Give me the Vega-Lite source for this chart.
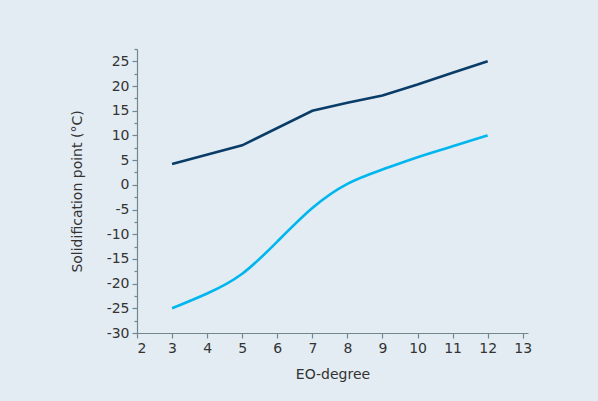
{
  "$schema": "https://vega.github.io/schema/vega-lite/v6.json",
  "autosize": {"type": "none"},
  "width": 391,
  "height": 284,
  "padding": {"left": 137, "top": 49, "right": 70, "bottom": 68},
  "background": "#e3ecf2",
  "config": {
    "view": {"stroke": null},
    "font": "DejaVu Sans",
    "axis": {
      "grid": false,
      "domainColor": "#72878f",
      "tickColor": "#72878f",
      "labelColor": "#333333",
      "titleColor": "#333333",
      "labelFont": "DejaVu Sans",
      "titleFont": "DejaVu Sans",
      "labelFontSize": 14,
      "titleFontSize": 14,
      "titleFontWeight": "normal",
      "domainWidth": 1.2,
      "tickWidth": 1.2
    }
  },
  "datasets": {
    "eo": [
      {"eo": 3, "value": 4.2, "series": "A"},
      {"eo": 5, "value": 8.0, "series": "A"},
      {"eo": 7, "value": 15.0, "series": "A"},
      {"eo": 8, "value": 16.6, "series": "A"},
      {"eo": 9, "value": 18.1, "series": "A"},
      {"eo": 10, "value": 20.3, "series": "A"},
      {"eo": 11, "value": 22.7, "series": "A"},
      {"eo": 12, "value": 25.0, "series": "A"},
      {"eo": 3, "value": -25.0, "series": "B"},
      {"eo": 4, "value": -22.0, "series": "B"},
      {"eo": 5, "value": -18.0, "series": "B"},
      {"eo": 6, "value": -11.5, "series": "B"},
      {"eo": 7, "value": -4.7, "series": "B"},
      {"eo": 8, "value": 0.2, "series": "B"},
      {"eo": 9, "value": 3.1, "series": "B"},
      {"eo": 10, "value": 5.6, "series": "B"},
      {"eo": 11, "value": 7.8, "series": "B"},
      {"eo": 12, "value": 10.0, "series": "B"}
    ]
  },
  "data": {"name": "eo"},
  "encoding": {
    "x": {
      "field": "eo",
      "type": "quantitative",
      "scale": {"domain": [2, 13.15], "nice": false, "zero": false},
      "axis": {
        "title": "EO-degree",
        "values": [2, 3, 4, 5, 6, 7, 8, 9, 10, 11, 12, 13],
        "tickSize": 5,
        "labelPadding": 3,
        "titlePadding": 12
      }
    }
  },
  "layer": [
    {
      "transform": [{"filter": "datum.series === 'A'"}],
      "mark": {"type": "line", "color": "#0a3c68", "strokeWidth": 2.6},
      "encoding": {
        "y": {
          "field": "value",
          "type": "quantitative",
          "scale": {"domain": [-30, 27.5], "nice": false, "zero": false},
          "axis": {
            "title": "Solidification point (°C)",
            "values": [-30, -25, -20, -15, -10, -5, 0, 5, 10, 15, 20, 25],
            "labelExpr": "toString(datum.value)",
            "tickSize": 5,
            "labelPadding": 3,
            "titlePadding": 22,
            "orient": "left"
          }
        }
      }
    },
    {
      "transform": [{"filter": "datum.series === 'B'"}],
      "mark": {"type": "line", "color": "#00b6ee", "strokeWidth": 2.6, "interpolate": "natural"},
      "encoding": {
        "y": {
          "field": "value",
          "type": "quantitative",
          "axis": {
            "orient": "left",
            "values": [-27.5, -22.5, -17.5, -12.5, -7.5, -2.5, 2.5, 7.5, 12.5, 17.5, 22.5, 27.5],
            "tickSize": 3,
            "labels": false,
            "domain": false,
            "title": null
          }
        }
      }
    }
  ],
  "resolve": {"axis": {"y": "independent"}}
}
